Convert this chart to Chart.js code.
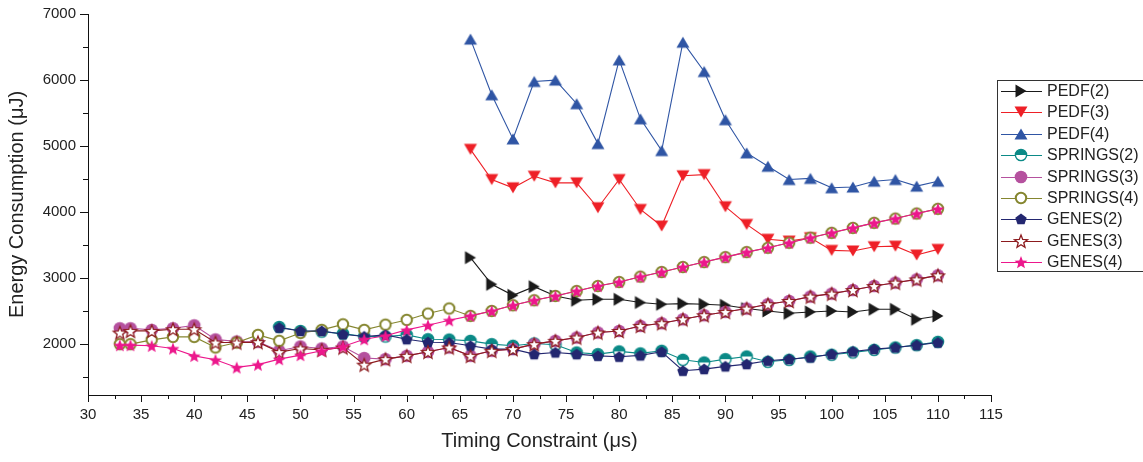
<!DOCTYPE html>
<html>
<head>
<meta charset="utf-8">
<script src="https://cdn.jsdelivr.net/npm/chart.js@4"></script>
<style>
  body { margin: 0; background: #fff; }
  #energyChart { display: block; }
</style>
</head>
<body>
<canvas id="energyChart" width="1143" height="462"></canvas>
<script>
// timing constraints (x values)
const timingAll = [33, 34, 36, 38, 40, 42, 44, 46, 48, 50, 52, 54, 56, 58, 60, 62, 64, 66, 68, 70,
  72, 74, 76, 78, 80, 82, 84, 86, 88, 90, 92, 94, 96, 98, 100, 102, 104, 106, 108, 110];
const timingMid = [48, 50, 52, 54, 56, 58, 60, 62, 64, 66, 68, 70, 72, 74, 76, 78, 80, 82, 84, 86,
  88, 90, 92, 94, 96, 98, 100, 102, 104, 106, 108, 110];
const timingPedf = [66, 68, 70, 72, 74, 76, 78, 80, 82, 84, 86, 88, 90, 92, 94, 96, 98, 100, 102,
  104, 106, 108, 110];

const seriesNames = ['PEDF(2)', 'PEDF(3)', 'PEDF(4)', 'SPRINGS(2)', 'SPRINGS(3)', 'SPRINGS(4)',
  'GENES(2)', 'GENES(3)', 'GENES(4)'];

const pedf2 = [3310, 2906, 2740, 2871, 2730, 2664, 2680, 2680, 2630, 2604, 2614, 2604, 2589, 2539,
  2503, 2468, 2488, 2503, 2488, 2528, 2528, 2377, 2427];
const pedf3 = [4950, 4493, 4368, 4543, 4443, 4443, 4066, 4493, 4040, 3789, 4550, 4568, 4081, 3814,
  3588, 3561, 3612, 3420, 3411, 3476, 3484, 3350, 3435];
const pedf4 = [6620, 5777, 5108, 5978, 5999, 5641, 5037, 6305, 5412, 4931, 6573, 6129, 5399, 4896,
  4694, 4493, 4510, 4368, 4380, 4468, 4493, 4393, 4468];

const springs2 = [2260, 2200, 2190, 2160, 2116, 2116, 2140, 2075, 2070, 2050, 2000, 1975, 2010, 1990,
  1874, 1849, 1890, 1860, 1900, 1763, 1723, 1773, 1814, 1733, 1763, 1814, 1840, 1874, 1914, 1950,
  1985, 2035];
const springs3 = [2240, 2240, 2216, 2240, 2285, 2072, 2040, 2035, 1900, 1965, 1935, 1965, 1790, 1773,
  1823, 1884, 1950, 1823, 1900, 1925, 2000, 2050, 2100, 2176, 2200, 2276, 2317, 2377, 2438, 2488,
  2539, 2604, 2654, 2720, 2765, 2820, 2880, 2931, 2981, 3042];
const springs4 = [2000, 2000, 2065, 2110, 2110, 1950, 2025, 2140, 2050, 2170, 2216, 2300, 2216, 2295,
  2367, 2463, 2540, 2428, 2503, 2589, 2664, 2730, 2805, 2880, 2941, 3022, 3092, 3168, 3243, 3318,
  3394, 3460, 3535, 3612, 3686, 3761, 3837, 3902, 3978, 4049];

const genes2 = [2250, 2200, 2200, 2150, 2116, 2140, 2075, 2030, 2025, 1975, 1925, 1925, 1849, 1874,
  1849, 1823, 1810, 1830, 1884, 1597, 1622, 1663, 1698, 1748, 1773, 1798, 1849, 1889, 1925, 1950,
  1985, 2025];
const genes3 = [2176, 2201, 2201, 2226, 2226, 2025, 2025, 2030, 1880, 1935, 1914, 1950, 1690, 1773,
  1823, 1884, 1950, 1823, 1900, 1925, 2000, 2050, 2100, 2176, 2200, 2276, 2317, 2377, 2438, 2488,
  2539, 2604, 2654, 2720, 2765, 2820, 2880, 2931, 2981, 3042];
const genes4 = [1985, 1985, 1975, 1935, 1823, 1763, 1648, 1690, 1773, 1834, 1900, 1965, 2075, 2126,
  2216, 2287, 2362, 2428, 2503, 2589, 2664, 2730, 2805, 2880, 2941, 3022, 3092, 3168, 3243, 3318,
  3394, 3460, 3535, 3612, 3686, 3761, 3837, 3902, 3978, 4049];

const xTicks = [30, 35, 40, 45, 50, 55, 60, 65, 70, 75, 80, 85, 90, 95, 100, 105, 110, 115];
const yTicks = [2000, 3000, 4000, 5000, 6000, 7000];

// marker images (Origin style symbols)
function makeMarker(kind, color) {
  const s = 18, m = s / 2;
  const c = document.createElement('canvas');
  c.width = s; c.height = s;
  const g = c.getContext('2d');
  g.fillStyle = color;
  g.strokeStyle = color;
  g.beginPath();
  if (kind === 'triUp') {
    g.moveTo(m, m - 5.5); g.lineTo(m + 6.5, m + 5.5); g.lineTo(m - 6.5, m + 5.5); g.closePath(); g.fill();
  } else if (kind === 'triDown') {
    g.moveTo(m, m + 5.5); g.lineTo(m + 6.5, m - 5.5); g.lineTo(m - 6.5, m - 5.5); g.closePath(); g.fill();
  } else if (kind === 'triRight') {
    g.moveTo(m + 5.5, m); g.lineTo(m - 5.5, m - 6.5); g.lineTo(m - 5.5, m + 6.5); g.closePath(); g.fill();
  } else if (kind === 'halfCircle') {
    g.arc(m, m, 5.6, 0, Math.PI * 2); g.fillStyle = '#fff'; g.fill();
    g.beginPath(); g.arc(m, m, 5.6, Math.PI, Math.PI * 2); g.closePath(); g.fillStyle = color; g.fill();
    g.beginPath(); g.arc(m, m, 5.6, 0, Math.PI * 2); g.lineWidth = 1.4; g.stroke();
  } else if (kind === 'fullCircle') {
    g.arc(m, m, 6.3, 0, Math.PI * 2); g.fill();
  } else if (kind === 'openCircle') {
    g.arc(m, m, 5.2, 0, Math.PI * 2); g.fillStyle = '#fff'; g.fill(); g.lineWidth = 2; g.stroke();
  } else if (kind === 'pentagon') {
    for (let k = 0; k < 5; k++) {
      const a = -Math.PI / 2 + k * 2 * Math.PI / 5;
      g.lineTo(m + 6 * Math.cos(a), m + 0.5 + 6 * Math.sin(a));
    }
    g.closePath(); g.fill();
  } else if (kind === 'openStar' || kind === 'fullStar') {
    for (let k = 0; k < 10; k++) {
      const r = k % 2 === 0 ? 6.8 : 2.9;
      const a = -Math.PI / 2 + k * Math.PI / 5;
      g.lineTo(m + r * Math.cos(a), m + 0.8 + r * Math.sin(a));
    }
    g.closePath();
    if (kind === 'openStar') { g.fillStyle = '#fff'; g.fill(); g.lineWidth = 1.3; g.stroke(); }
    else g.fill();
  }
  return c;
}

const colors = ['#1a1a1a', '#ee2027', '#2f55a4', '#0b8a87', '#b5519e', '#85862f', '#232770', '#8c1b1e', '#ec178c'];
const kinds = ['triRight', 'triDown', 'triUp', 'halfCircle', 'fullCircle', 'openCircle', 'pentagon', 'openStar', 'fullStar'];
const xsList = [timingPedf, timingPedf, timingPedf, timingMid, timingAll, timingAll, timingMid, timingAll, timingAll];
const ysList = [pedf2, pedf3, pedf4, springs2, springs3, springs4, genes2, genes3, genes4];

const markers = kinds.map((k, i) => makeMarker(k, colors[i]));

const datasets = seriesNames.map((name, i) => ({
  label: name,
  data: xsList[i].map((x, j) => ({ x: x, y: ysList[i][j] })),
  borderColor: colors[i],
  backgroundColor: colors[i],
  borderWidth: 1.1,
  pointStyle: markers[i],
  order: 9 - i
}));

// Origin-like legend: line through symbol, boxed
const boxLegend = {
  id: 'boxLegend',
  afterDraw(chart) {
    const ctx = chart.ctx;
    ctx.save();
    ctx.strokeStyle = '#333';
    ctx.lineWidth = 1;
    ctx.strokeRect(997.5, 80.5, 160, 191);
    ctx.font = '16px "Liberation Sans", Arial, sans-serif';
    ctx.textBaseline = 'middle';
    ctx.fillStyle = '#222';
    seriesNames.forEach((name, i) => {
      const y = Math.round(91 + i * 21.4);
      ctx.strokeStyle = colors[i];
      ctx.lineWidth = 1.2;
      ctx.beginPath();
      ctx.moveTo(1001, y + 0.5);
      ctx.lineTo(1042, y + 0.5);
      ctx.stroke();
      ctx.drawImage(markers[i], 1021 - 9, y - 9);
      ctx.fillText(name, 1047, y + 1);
    });
    ctx.restore();
  }
};

// outward major/minor ticks like the original plot
const axisTicks = {
  id: 'axisTicks',
  afterDraw(chart) {
    const ctx = chart.ctx;
    const xs = chart.scales.x, ys = chart.scales.y;
    const a = chart.chartArea;
    ctx.save();
    ctx.strokeStyle = '#111';
    ctx.lineWidth = 1;
    ctx.beginPath();
    for (let v = 30; v <= 115; v += 2.5) {
      const px = Math.round(xs.getPixelForValue(v)) + 0.5;
      const len = v % 5 === 0 ? 7 : 4;
      ctx.moveTo(px, a.bottom);
      ctx.lineTo(px, a.bottom + len);
    }
    for (let v = 1500; v <= 7000; v += 500) {
      const py = Math.round(ys.getPixelForValue(v)) + 0.5;
      const len = v % 1000 === 0 ? 8 : 5;
      ctx.moveTo(a.left, py);
      ctx.lineTo(a.left - len, py);
    }
    ctx.stroke();
    ctx.restore();
  }
};

const tickFont = { family: '"Liberation Sans", Arial, sans-serif', size: 15 };
const titleFont = { family: '"Liberation Sans", Arial, sans-serif', size: 20 };

new Chart(document.getElementById('energyChart'), {
  type: 'line',
  data: { datasets: datasets },
  options: {
    responsive: false,
    animation: false,
    events: [],
    layout: { padding: { top: 14, right: 152, left: 0, bottom: 0 } },
    plugins: { legend: { display: false }, tooltip: { enabled: false } },
    scales: {
      x: {
        type: 'linear',
        min: 30,
        max: 115,
        afterFit(scale) { scale.height = 67; scale.paddingLeft = 0; scale.paddingRight = 0; },
        afterBuildTicks(scale) { scale.ticks = xTicks.map(v => ({ value: v })); },
        grid: { display: false, drawTicks: false },
        border: { display: true, color: '#111', width: 1 },
        ticks: { font: tickFont, color: '#222', padding: 11, maxRotation: 0, autoSkip: false,
          callback: v => String(v) },
        title: { display: true, text: 'Timing Constraint (μs)', font: titleFont, color: '#222', padding: { top: 0, bottom: 9 } }
      },
      y: {
        type: 'linear',
        min: 1230,
        max: 7000,
        afterFit(scale) { scale.width = 88; scale.paddingTop = 0; scale.paddingBottom = 0; },
        afterBuildTicks(scale) { scale.ticks = yTicks.map(v => ({ value: v })); },
        grid: { display: false, drawTicks: false },
        border: { display: true, color: '#111', width: 1 },
        ticks: { font: tickFont, color: '#222', padding: 12, callback: v => String(v) },
        title: { display: true, text: 'Energy Consumption (μJ)', font: titleFont, color: '#222', padding: { top: 5, bottom: 0 } }
      }
    }
  },
  plugins: [boxLegend, axisTicks]
});
</script>
</body>
</html>
